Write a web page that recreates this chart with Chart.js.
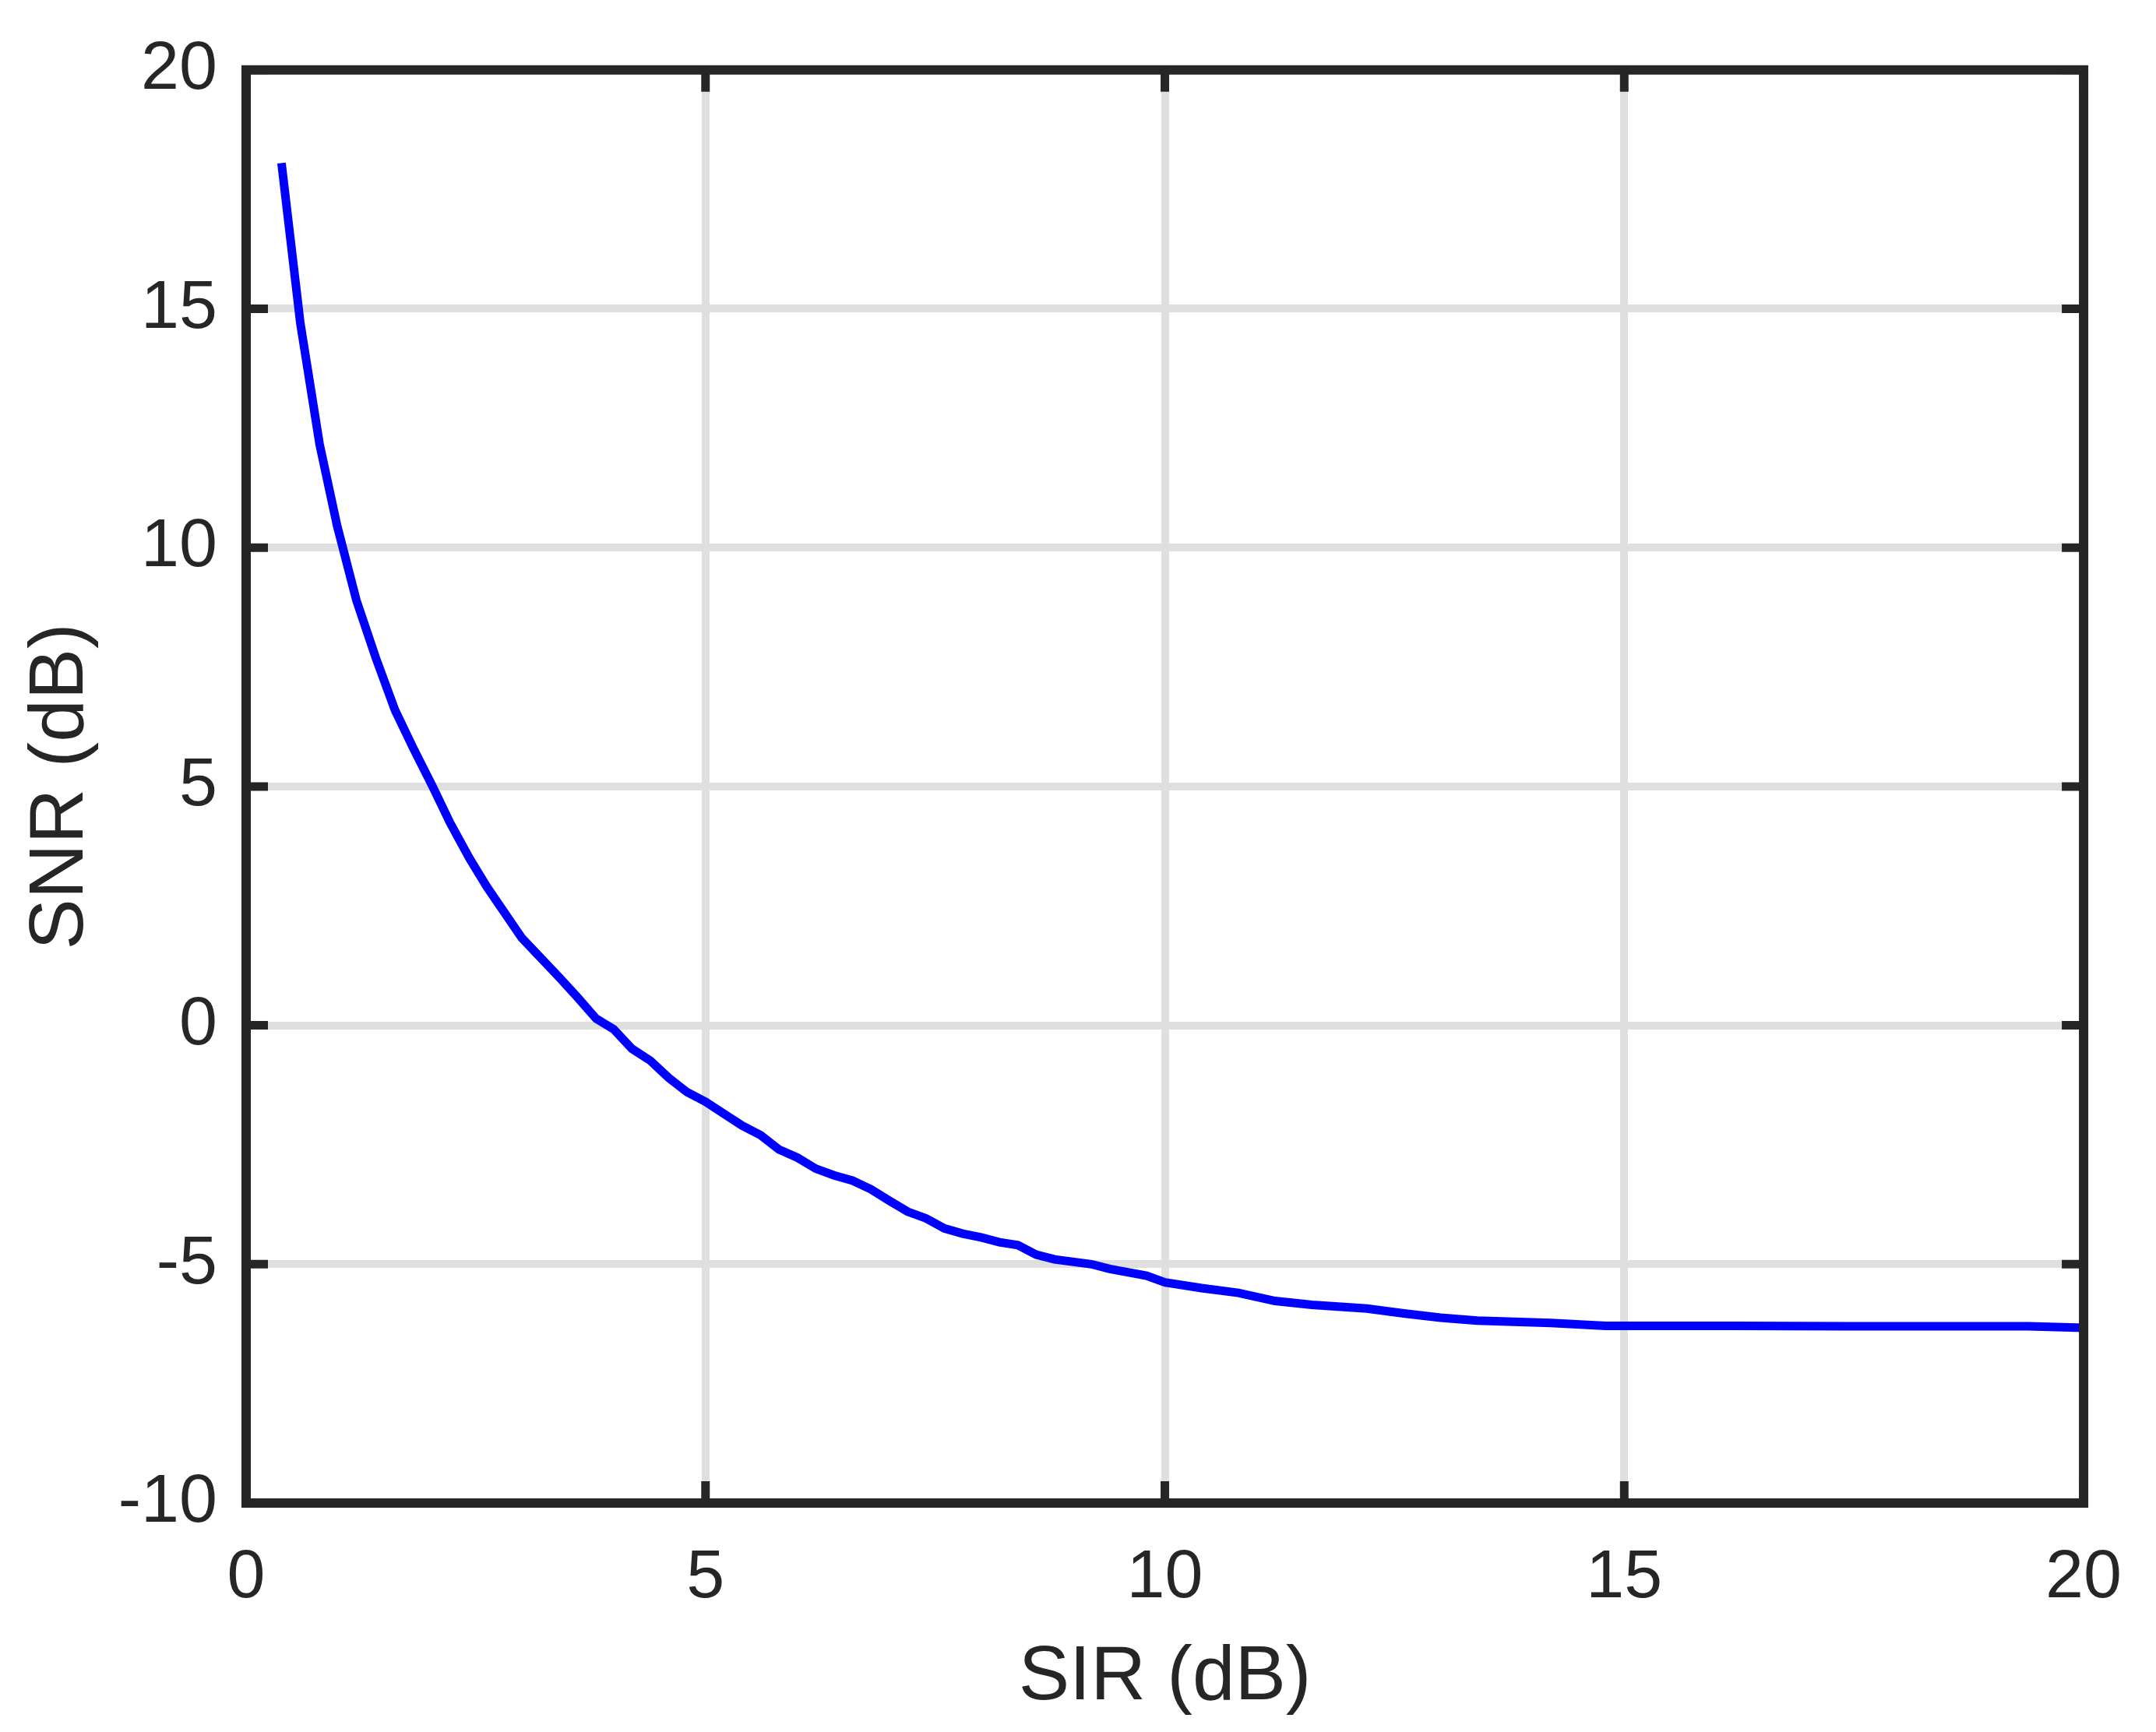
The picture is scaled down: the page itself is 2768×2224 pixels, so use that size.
<!DOCTYPE html>
<html><head><meta charset="utf-8">
<script src="https://cdn.jsdelivr.net/npm/chart.js@4"></script>
<style>html,body{margin:0;padding:0;background:#fff}#wrap{width:2768px;height:2224px}</style>
</head><body><div id="wrap"><canvas id="c" width="2768" height="2224"></canvas></div>
<script>
const sirValues = [0.385,0.59,0.8,0.99,1.2,1.41,1.62,1.82,2.03,2.22,2.43,2.62,3.0,3.41,3.6,3.81,4.0,4.2,4.4,4.6,4.8,5.0,5.2,5.4,5.6,5.8,6.0,6.2,6.4,6.6,6.8,7.0,7.2,7.4,7.6,7.8,8.0,8.2,8.4,8.6,8.8,9.2,9.4,9.8,10.0,10.4,10.8,11.2,11.6,12.2,12.6,13.0,13.4,14.2,14.8,16.2,17.4,19.4,20];
const snrValues = [18.05,14.7,12.16,10.46,8.9,7.7,6.6,5.8,5.0,4.24,3.5,2.9,1.83,1.0,0.6,0.14,-0.08,-0.49,-0.74,-1.1,-1.4,-1.6,-1.85,-2.1,-2.3,-2.6,-2.77,-3.0,-3.14,-3.25,-3.43,-3.67,-3.9,-4.04,-4.25,-4.36,-4.44,-4.54,-4.6,-4.8,-4.9,-5.0,-5.1,-5.24,-5.38,-5.5,-5.6,-5.77,-5.85,-5.93,-6.03,-6.12,-6.18,-6.23,-6.29,-6.29,-6.3,-6.3,-6.33];
const xTicks = [0,5,10,15,20];
const yTicks = [-10,-5,0,5,10,15,20];
const txt = '#262626';
const font = {family:'"Liberation Sans", Arial, sans-serif', size:88};
const frame = {
  id:'frame',
  afterDatasetsDraw(chart){
    const {ctx, chartArea:a, scales:{x,y}} = chart;
    ctx.save();
    ctx.strokeStyle = txt; ctx.lineWidth = 11;
    const L = 28;
    xTicks.forEach(v=>{const p=x.getPixelForValue(v);
      ctx.beginPath();ctx.moveTo(p,a.bottom);ctx.lineTo(p,a.bottom-L);ctx.moveTo(p,a.top);ctx.lineTo(p,a.top+L);ctx.stroke();});
    yTicks.forEach(v=>{const p=y.getPixelForValue(v);
      ctx.beginPath();ctx.moveTo(a.left,p);ctx.lineTo(a.left+L,p);ctx.moveTo(a.right,p);ctx.lineTo(a.right-L,p);ctx.stroke();});
    ctx.lineWidth = 12;
    ctx.strokeRect(a.left,a.top,a.right-a.left,a.bottom-a.top);
    ctx.restore();
  }
};
new Chart(document.getElementById('c'),{
  type:'line',
  data:{datasets:[{data:sirValues.map((v,i)=>({x:v,y:snrValues[i]})),borderColor:'#0000ff',borderWidth:11,pointRadius:0,tension:0,fill:false}]},
  options:{
    responsive:false,animation:false,devicePixelRatio:1,
    layout:{padding:{left:0,top:20,right:50,bottom:0}},
    plugins:{legend:{display:false},tooltip:{enabled:false}},
    scales:{
      x:{type:'linear',min:0,max:20,
        afterFit(s){s.height=294;},
        afterBuildTicks(s){s.ticks=xTicks.map(v=>({value:v}));},
        ticks:{color:txt,font,padding:44,maxRotation:0},
        grid:{color:'#dfdfdf',lineWidth:10,drawTicks:false},
        border:{display:false},
        title:{display:true,text:'SIR (dB)',color:txt,font:{...font,size:98},padding:{top:0,bottom:10}}},
      y:{type:'linear',min:-10,max:20,
        afterFit(s){s.width=316;},
        afterBuildTicks(s){s.ticks=yTicks.map(v=>({value:v}));},
        ticks:{color:txt,font,padding:37},
        grid:{color:'#dfdfdf',lineWidth:10,drawTicks:false},
        border:{display:false},
        title:{display:true,text:'SNR (dB)',color:txt,font:{...font,size:98},padding:{top:20,bottom:10}}}
    }
  },
  plugins:[frame]
});
</script></body></html>
